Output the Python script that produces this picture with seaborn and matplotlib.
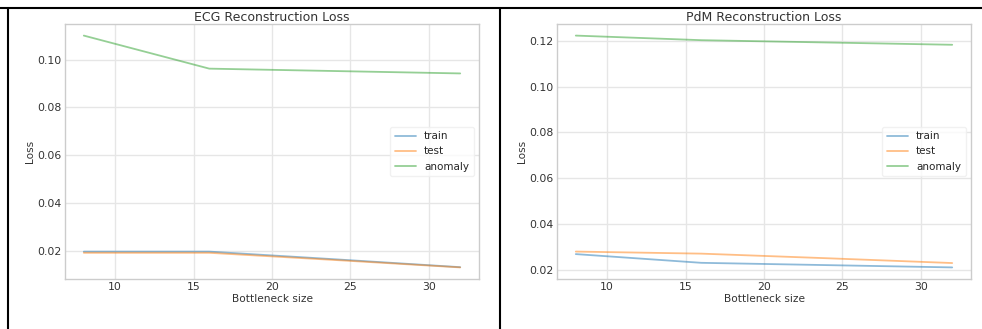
import numpy as np
import pandas as pd
import matplotlib
matplotlib.use("Agg")
import matplotlib.pyplot as plt
import seaborn as sns
from matplotlib.lines import Line2D

bottleneck = [8, 16, 24, 32]
series_names = ["train", "test", "anomaly"]

ecg_train = [0.0198, 0.0198, 0.0166, 0.0133]
ecg_test = [0.0193, 0.0193, 0.0163, 0.0132]
ecg_anomaly = [0.110, 0.0962, 0.0952, 0.0942]

pdm_train = [0.0270, 0.0232, 0.0222, 0.0212]
pdm_test = [0.0281, 0.0272, 0.0252, 0.0231]
pdm_anomaly = [0.1222, 0.1202, 0.1192, 0.1182]

titles = ["ECG Reconstruction Loss", "PdM Reconstruction Loss"]
xlabel = "Bottleneck size"
ylabel = "Loss"


def long_df(train, test, anomaly):
    rows = []
    for name, vals in zip(series_names, [train, test, anomaly]):
        for x, v in zip(bottleneck, vals):
            rows.append({"Bottleneck size": x, "Loss": v, "series": name})
    return pd.DataFrame(rows)


sns.set_theme(style="whitegrid")
plt.rcParams["font.family"] = ["DejaVu Sans"]
plt.rcParams["axes.edgecolor"] = "#cccccc"
plt.rcParams["grid.color"] = "#e6e6e6"

W, H = 982, 329
fig = plt.figure(figsize=(W / 100, H / 100), dpi=100)
fig.patch.set_facecolor("white")

axes_px = [(65, 24, 479, 279), (557, 24, 971, 279)]
data = [long_df(ecg_train, ecg_test, ecg_anomaly),
        long_df(pdm_train, pdm_test, pdm_anomaly)]
palette = dict(zip(series_names, ["#1f77b4", "#ff7f0e", "#2ca02c"]))

for (l, t, r, b), df, title in zip(axes_px, data, titles):
    ax = fig.add_axes([l / W, 1 - b / H, (r - l) / W, (b - t) / H])
    sns.lineplot(data=df, x="Bottleneck size", y="Loss", hue="series",
                 palette=palette, ax=ax, alpha=0.5, linewidth=1.3)
    ax.set_title(title, fontsize=9, pad=2, color="#333333")
    ax.set_xlabel(xlabel, fontsize=7.6, labelpad=1, color="#333333")
    ax.set_ylabel(ylabel, fontsize=7.6, labelpad=2, color="#333333")
    ax.tick_params(labelsize=7.8, length=0, pad=2.5, colors="#333333")
    ax.set_xticks([10, 15, 20, 25, 30])
    for s in ax.spines.values():
        s.set_color("#cccccc")
        s.set_linewidth(1.0)
    leg = ax.legend(loc="center right", fontsize=7.5, frameon=True,
                    handlelength=2.0, labelspacing=0.5, borderpad=0.45)
    leg.get_frame().set_edgecolor("#eeeeee")
    for h in leg.get_lines():
        h.set_alpha(0.5)

# table-like black borders
def px_line(x0, y0, x1, y1):
    fig.add_artist(Line2D([x0 / W, x1 / W], [1 - y0 / H, 1 - y1 / H],
                          transform=fig.transFigure, color="black", linewidth=1.5))

px_line(0, 7.5, W, 7.5)
px_line(8, 7.5, 8, H)
px_line(500, 7.5, 500, H)

fig.savefig("out.png", dpi=100, facecolor="white")
